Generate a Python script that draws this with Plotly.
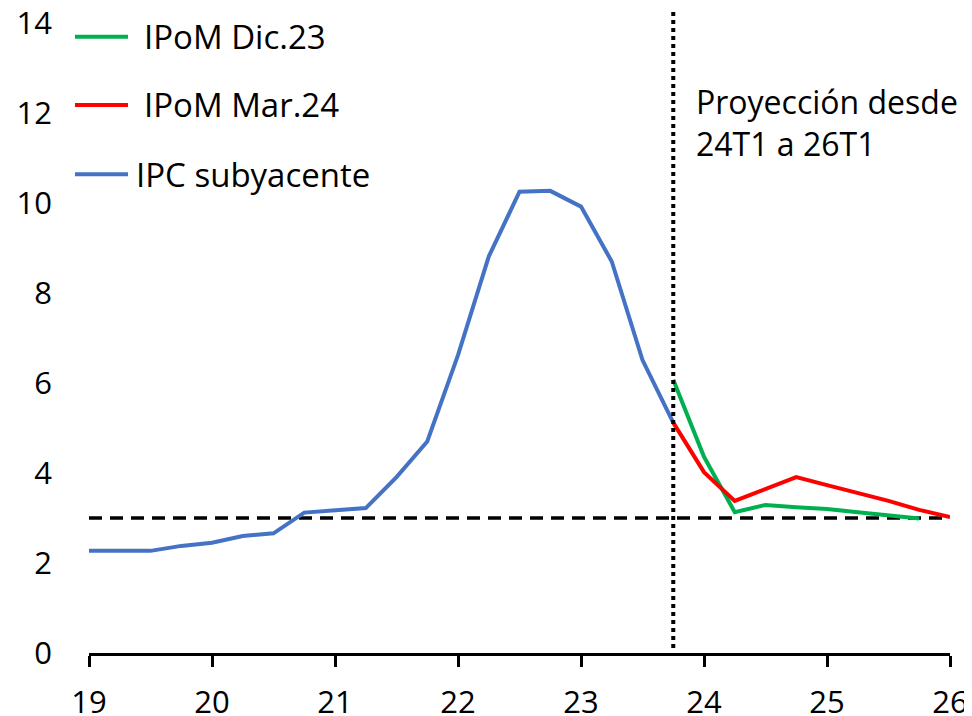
import plotly.graph_objects as go

# Quarterly positions (year fraction, 19 = 2019Q1)
x_hist = [19.0, 19.25, 19.5, 19.75, 20.0, 20.25, 20.5, 20.75, 21.0, 21.25,
          21.5, 21.75, 22.0, 22.25, 22.5, 22.75, 23.0, 23.25, 23.5, 23.75]
ipc_subyacente = [2.27, 2.27, 2.27, 2.38, 2.45, 2.6, 2.66, 3.12, 3.18, 3.22,
                  3.91, 4.7, 6.62, 8.81, 10.25, 10.27, 9.92, 8.70, 6.51, 5.12]

x_dic23 = [23.75, 24.0, 24.25, 24.5, 24.75, 25.0, 25.25, 25.5, 25.75]
ipom_dic23 = [6.07, 4.36, 3.13, 3.29, 3.24, 3.2, 3.13, 3.07, 2.99]

x_mar24 = [23.75, 24.0, 24.25, 24.5, 24.75, 25.0, 25.25, 25.5, 25.75, 26.0]
ipom_mar24 = [5.12, 4.02, 3.38, 3.64, 3.91, 3.73, 3.56, 3.38, 3.18, 3.02]

meta_x = [19, 26]
meta_y = [3, 3]
proj_start = 23.75

x_ticks = [19, 20, 21, 22, 23, 24, 25, 26]
y_ticks = [0, 2, 4, 6, 8, 10, 12, 14]

GREEN = "#00B050"
RED = "#FF0000"
BLUE = "#4472C4"
FONT = "Open Sans"

fig = go.Figure()
fig.add_trace(go.Scatter(x=meta_x, y=meta_y, mode="lines",
                         line=dict(color="black", width=3.5, dash="13px,8px"),
                         showlegend=False, hoverinfo="skip"))
fig.add_trace(go.Scatter(x=x_hist, y=ipc_subyacente, mode="lines", name="IPC subyacente",
                         line=dict(color=BLUE, width=4), showlegend=False))
fig.add_trace(go.Scatter(x=x_dic23, y=ipom_dic23, mode="lines", name="IPoM Dic.23",
                         line=dict(color=GREEN, width=4), showlegend=False))
fig.add_trace(go.Scatter(x=x_mar24, y=ipom_mar24, mode="lines", name="IPoM Mar.24",
                         line=dict(color=RED, width=4), showlegend=False))

# vertical dotted projection line
fig.add_shape(type="line", xref="x", yref="paper", x0=proj_start, x1=proj_start,
              y0=0.008, y1=1.019, line=dict(color="black", width=4, dash="dot"))

# manual legend
legend_items = [("IPoM Dic.23", GREEN, 0.978, 0.0616),
                ("IPoM Mar.24", RED, 0.870, 0.0616),
                ("IPC subyacente", BLUE, 0.760, 0.0523)]
for name, col, yy, tx in legend_items:
    fig.add_shape(type="line", xref="paper", yref="paper", x0=-0.0163, x1=0.0453,
                  y0=yy, y1=yy, line=dict(color=col, width=4))
    fig.add_annotation(xref="paper", yref="paper", x=tx, y=yy, text=name,
                       showarrow=False, xanchor="left", yanchor="middle",
                       font=dict(family=FONT, size=33, color="black"))

fig.add_annotation(xref="paper", yref="paper", x=0.703, y=0.913,
                   text="Proyección desde<br>24T1 a 26T1", showarrow=False,
                   xanchor="left", yanchor="top", align="left",
                   font=dict(family=FONT, size=32, color="black"))

# page body has an 8px margin, so plot-area margins are offset accordingly
fig.update_layout(
    width=972, height=716,
    margin=dict(l=81, r=30, t=15, b=71),
    paper_bgcolor="white", plot_bgcolor="white",
    font=dict(family=FONT, size=31, color="black"),
    showlegend=False,
)
fig.update_xaxes(range=[19, 26], tickvals=x_ticks, ticktext=[str(v) for v in x_ticks],
                 automargin=False, ticklabeloverflow="allow",
                 showgrid=False, zeroline=False, showline=True, linecolor="black",
                 linewidth=3, ticks="outside", ticklen=11, tickwidth=3, tickcolor="black",
                 ticklabelstandoff=9, tickfont=dict(family=FONT, size=31))
fig.update_yaxes(range=[0, 14], tickvals=y_ticks, showgrid=False, zeroline=False,
                 automargin=False, ticklabeloverflow="allow",
                 showline=False, ticks="", ticklabelstandoff=36,
                 tickfont=dict(family=FONT, size=31))

fig.write_html("out.html")
